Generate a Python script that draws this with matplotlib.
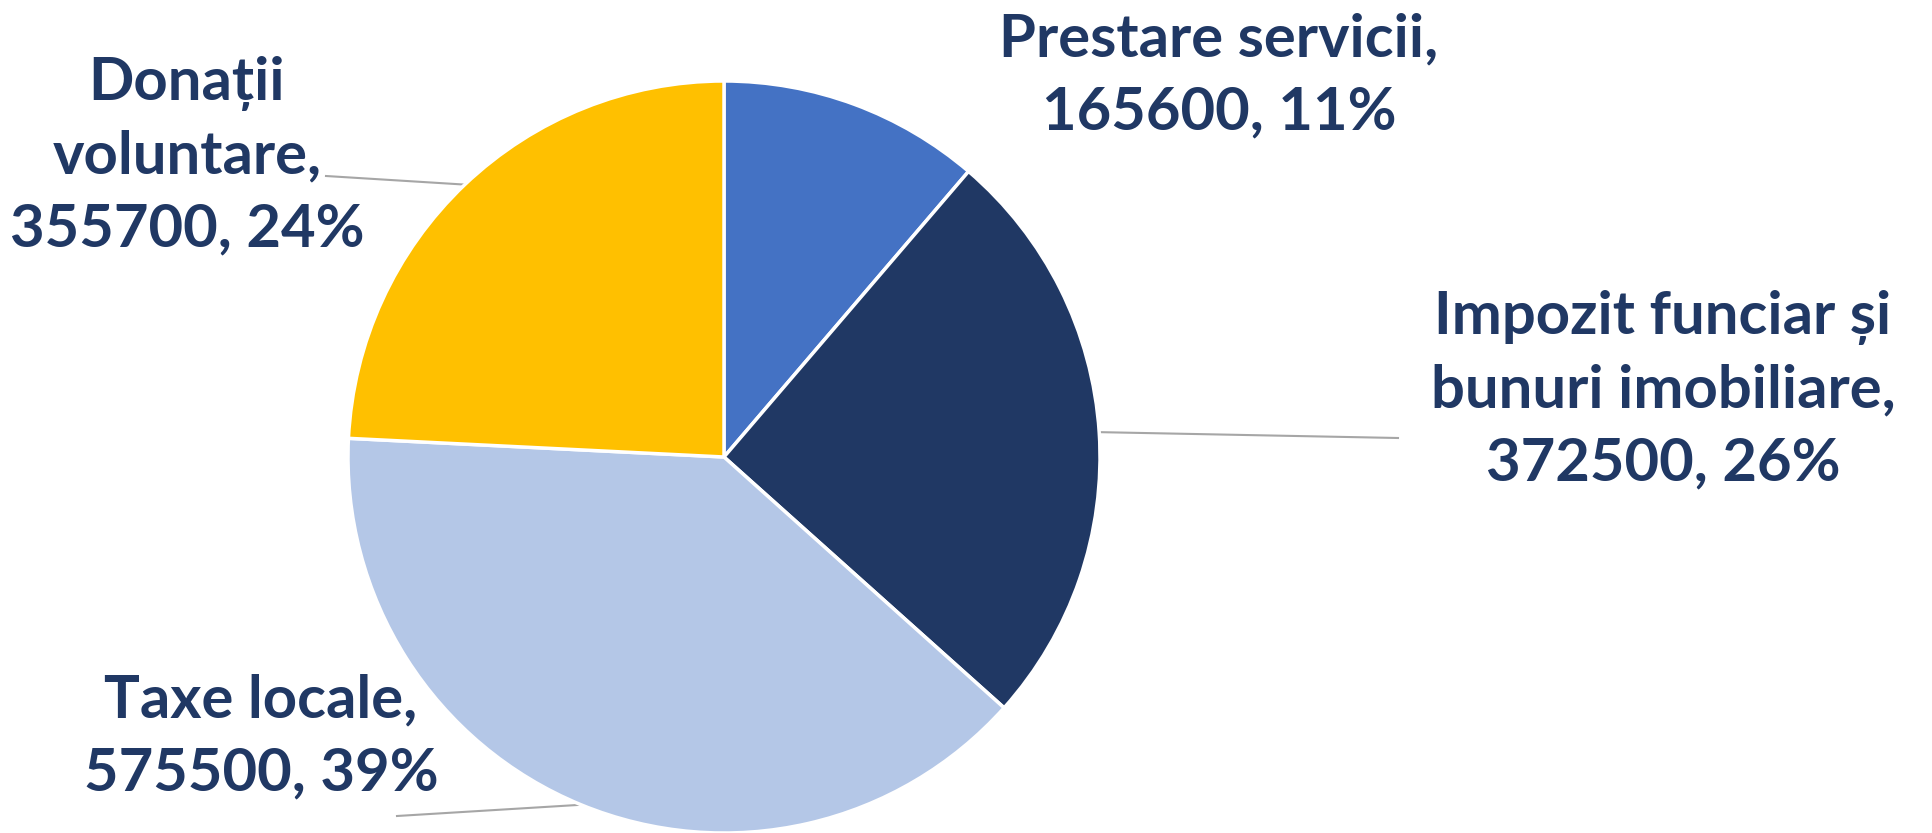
import numpy as np
import matplotlib
matplotlib.use('Agg')
import matplotlib.pyplot as plt

# data
categories = ['Prestare servicii', 'Impozit funciar și\nbunuri imobiliare', 'Taxe locale', 'Donații\nvoluntare']
values = [165600, 372500, 575500, 355700]
pct_labels = ['11%', '26%', '39%', '24%']
colors = ['#4472C4', '#203864', '#B4C7E7', '#FFC000']

W, H = 1932, 833
fig = plt.figure(figsize=(W / 100, H / 100), dpi=100)
ax = fig.add_axes([0, 0, 1, 1])

cx, cy, r = 724, H - 457, 376
wedges, _ = ax.pie(values, colors=colors, startangle=90, counterclock=False,
                   center=(cx, cy), radius=r,
                   wedgeprops=dict(edgecolor='white', linewidth=2.5))
ax.set_xlim(0, W)
ax.set_ylim(0, H)
ax.set_aspect('equal')
ax.axis('off')

# label text blocks (centre of block, in pixels from top-left)
label_pos = [(1219, 76), (1663, 390), (261, 737), (187, 156)]
# leader line far ends (None = no leader)
leader_end = [None, (1398, 438), (397, 816), (326, 176)]

txtcolor = '#203864'
for i, w in enumerate(wedges):
    x, y = label_pos[i]
    ax.text(x, H - y, f'{categories[i]},\n{values[i]}, {pct_labels[i]}',
            ha='center', va='center', fontsize=43, fontweight='bold',
            color=txtcolor, family=['Lato', 'DejaVu Sans'], linespacing=1.42)
    if leader_end[i] is not None:
        ang = np.deg2rad((w.theta1 + w.theta2) / 2)
        px, py = cx + r * np.cos(ang), cy + r * np.sin(ang)
        ex, ey = leader_end[i]
        ax.plot([px, ex], [py, H - ey], color='#A6A6A6', lw=1.5, zorder=0)

fig.savefig('out.png', dpi=100, facecolor='white')
